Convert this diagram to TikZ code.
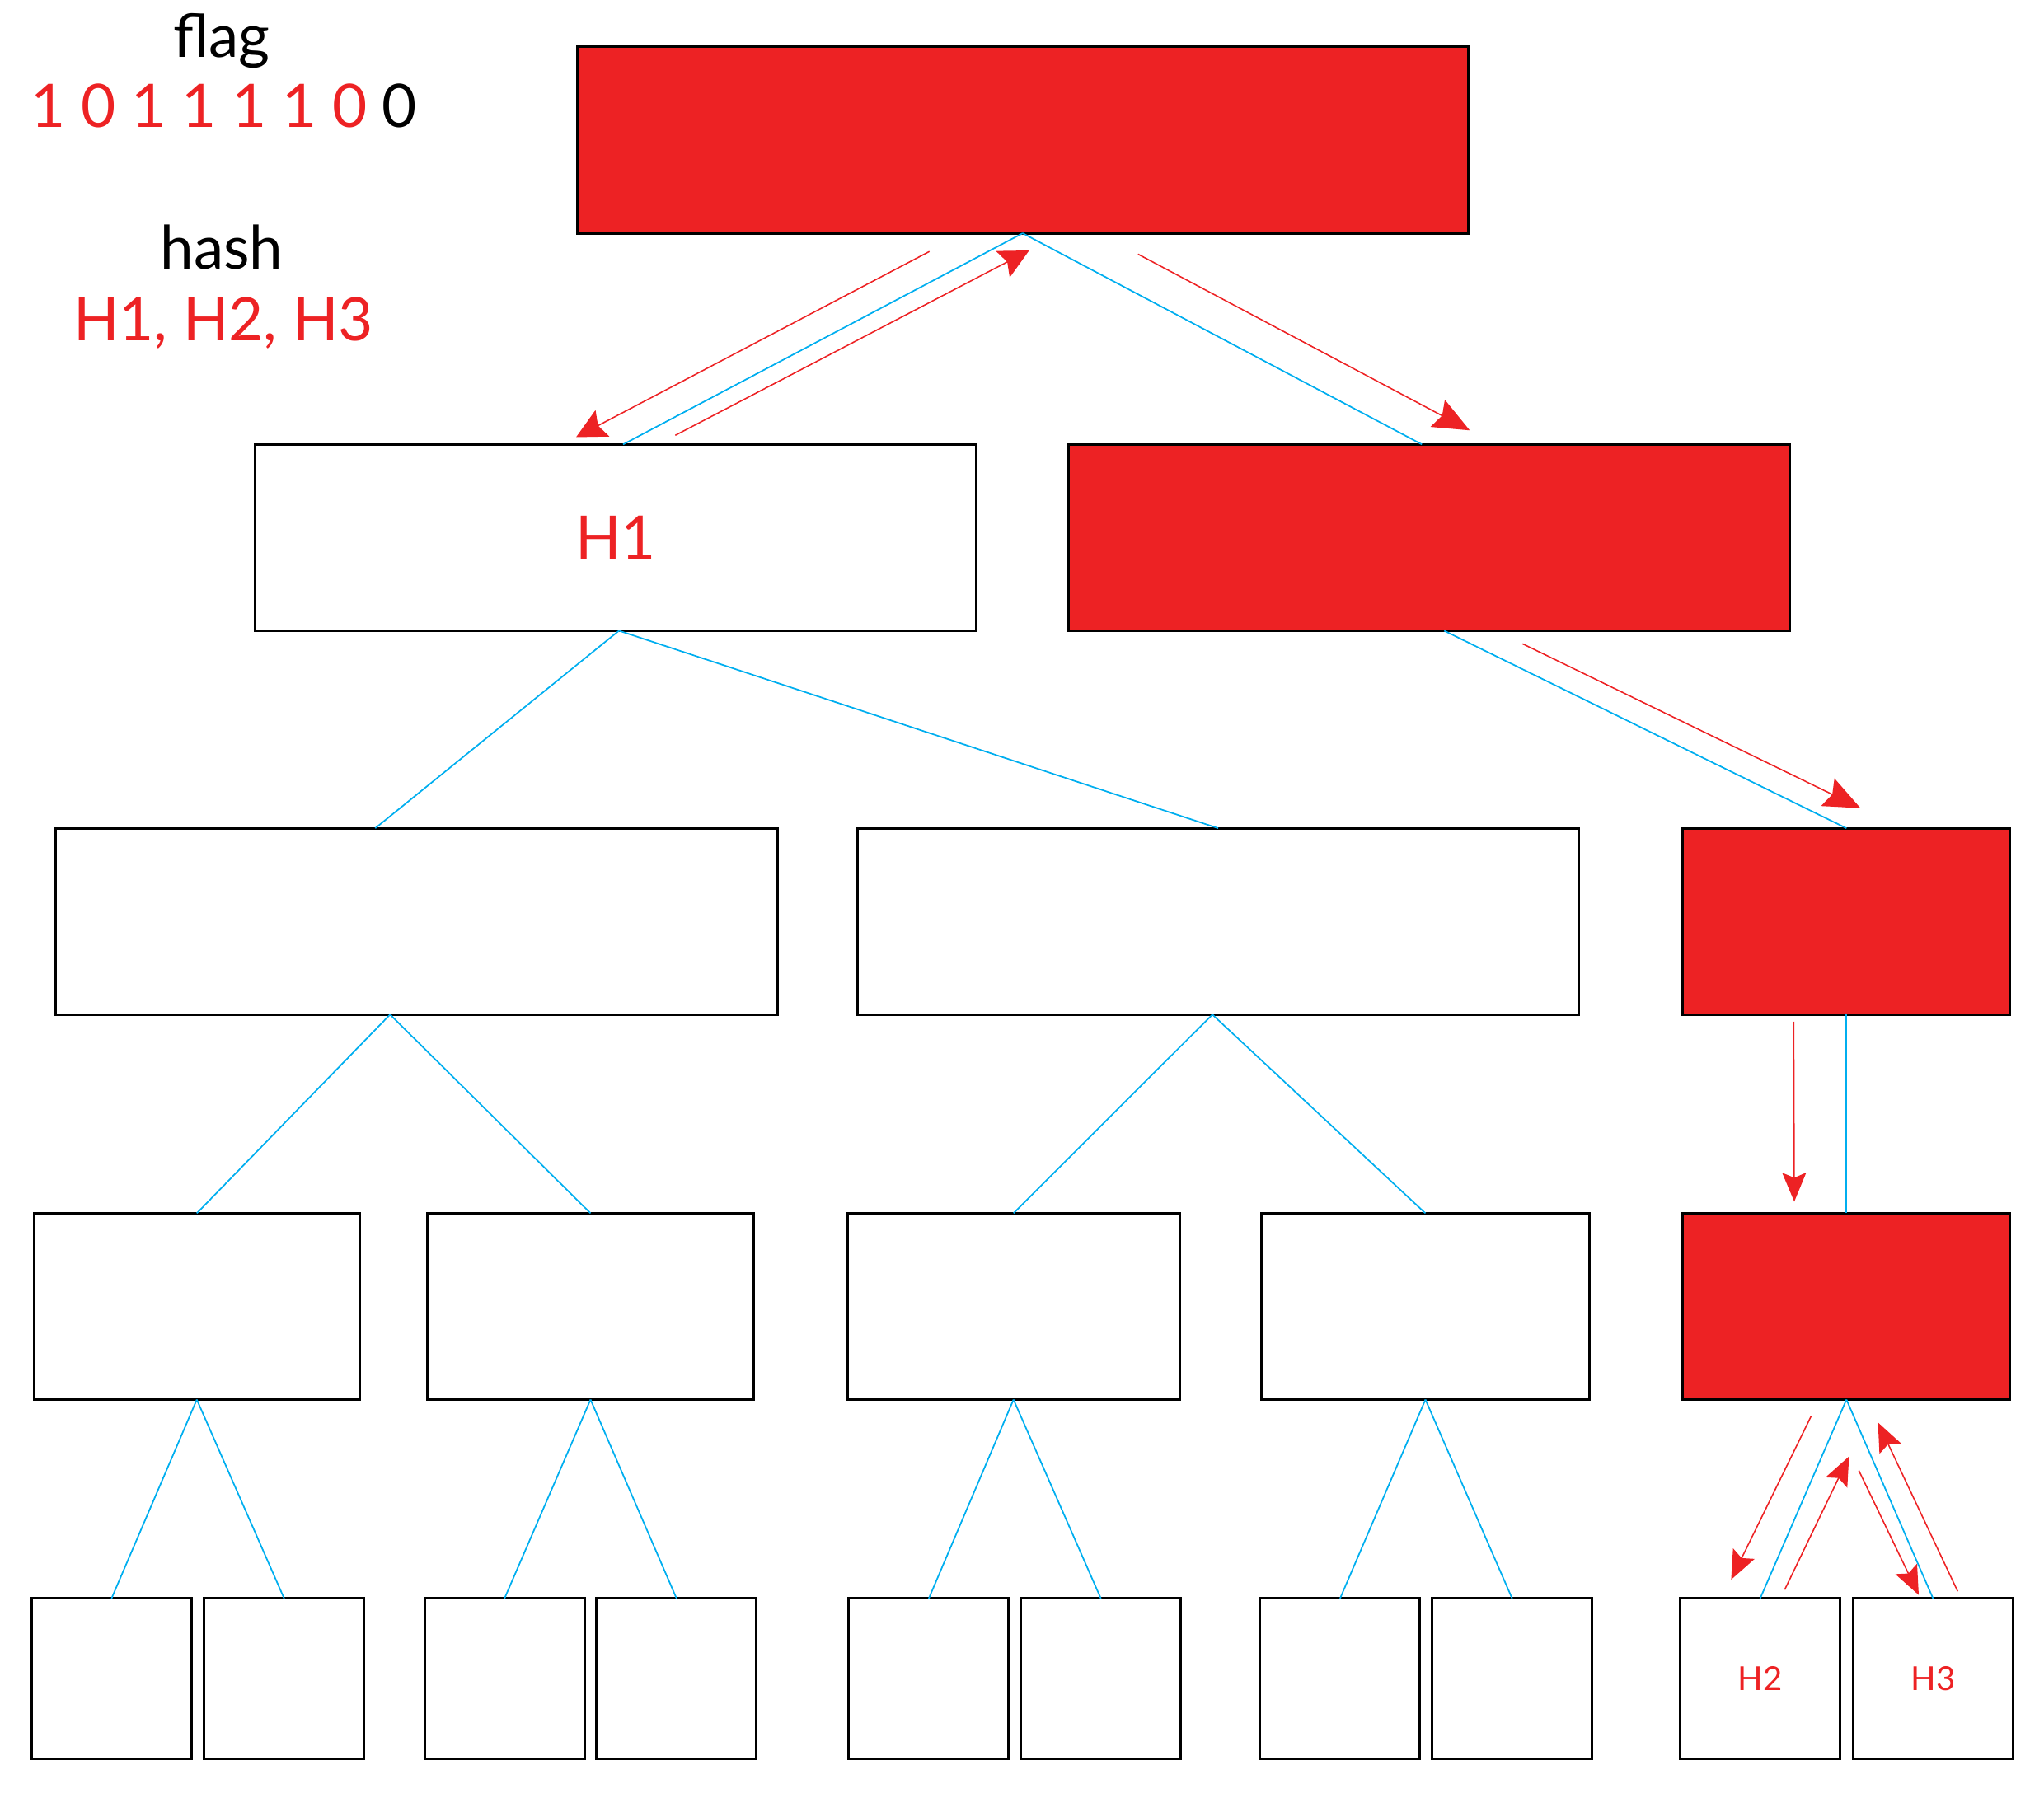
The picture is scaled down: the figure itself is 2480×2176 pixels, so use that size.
\documentclass[tikz,border=0pt]{standalone}
\usepackage{fontspec}
\setmainfont{Lato}
\usetikzlibrary{arrows.meta}
\definecolor{hitred}{RGB}{237,34,36}
\definecolor{linkblue}{RGB}{0,174,239}

\begin{document}
\begin{tikzpicture}[x=0.01cm, y=-0.01cm,
    cell/.style={draw=black, line width=0.85pt, inner sep=0pt, outer sep=0pt, minimum height=2.26cm},
    hit/.style={cell, fill=hitred},
    leaf/.style={draw=black, line width=0.85pt, inner sep=0pt, outer sep=0pt, minimum width=1.94cm, minimum height=1.94cm},
    edge/.style={linkblue, line width=0.5pt},
    trail/.style 2 args={hitred, line width=0.45pt, -{Stealth[length=#1cm, width=#2cm, inset=0.06cm]}},
    big/.style={font=\fontsize{20.7}{24}\selectfont},
  ]
  \useasboundingbox (0,0) rectangle (2480,2176);

  % flag and hash
  \node[big, anchor=base] (flag) at (269,70) {flag};
  \node[big, anchor=base, text=hitred] (bits) at (272,155) {1 0 1 1 1 1 0 \textcolor{black}{0}};
  \node[big, anchor=base] (hash) at (269,327) {hash};
  \node[big, anchor=base, text=hitred] (hashes) at (271,414) {H1, H2, H3};

  % tree
  \node[hit, minimum width=10.80cm] (root) at (1240.8,170) {};

  \node[cell, minimum width=8.75cm, big, text=hitred] (h1) at (747,652.4) {H1};
  \node[hit, minimum width=8.75cm] (r1) at (1734.2,652.4) {};

  \node[cell, minimum width=8.75cm] (a) at (505.3,1118.2) {};
  \node[cell, minimum width=8.75cm] (b) at (1478,1118.2) {};
  \node[hit, minimum width=3.97cm] (c) at (2240.3,1118.2) {};

  \node[cell, minimum width=3.95cm] (a1) at (238.8,1585.5) {};
  \node[cell, minimum width=3.95cm] (a2) at (716.5,1585.5) {};
  \node[cell, minimum width=4.03cm] (b1) at (1229.7,1585.5) {};
  \node[cell, minimum width=3.97cm] (b2) at (1729.5,1585.5) {};
  \node[hit, minimum width=3.97cm] (c1) at (2240.3,1585.5) {};

  \foreach \n/\x in {a1-l/135.3, a1-r/344.8, a2-l/612.1, a2-r/820.9,
                     b1-l/1126.9, b1-r/1335.7, b2-l/1625.9, b2-r/1834.7}
    \node[leaf] (\n) at (\x,2037) {};
  \node[leaf, text=hitred, font=\fontsize{11.4}{13}\selectfont] (c1-l) at (2135.6,2037) {H2};
  \node[leaf, text=hitred, font=\fontsize{11.4}{13}\selectfont] (c1-r) at (2345.4,2037) {H3};

  % blue links
  \draw[edge] (root.south) -- ([xshift=0.09cm]h1.north);
  \draw[edge] (root.south) -- ([xshift=-0.09cm]r1.north);
  \draw[edge] ([xshift=0.04cm]h1.south) -- ([xshift=-0.5cm]a.north);
  \draw[edge] ([xshift=0.04cm]h1.south) -- (b.north);
  \draw[edge] ([xshift=0.18cm]r1.south) -- (c.north);
  \draw[edge] ([xshift=-0.32cm]a.south) -- (a1.north);
  \draw[edge] ([xshift=-0.32cm]a.south) -- (a2.north);
  \draw[edge] ([xshift=-0.07cm]b.south) -- (b1.north);
  \draw[edge] ([xshift=-0.07cm]b.south) -- (b2.north);
  \draw[edge] (c.south) -- (c1.north);
  \foreach \p in {a1,a2,b1,b2,c1} {
    \draw[edge] (\p.south) -- (\p-l.north);
    \draw[edge] (\p.south) -- (\p-r.north);
  }

  % red walk
  \coordinate (go1) at (1127.7,305.2);  \coordinate (to1) at (699,530.5);
  \coordinate (go2) at (819.3,528.3);   \coordinate (to2) at (1248.7,304);
  \coordinate (go3) at (1380.7,308.4);  \coordinate (to3) at (1783.3,522.3);
  \coordinate (go4) at (1847.3,781.3);  \coordinate (to4) at (2257.3,980.7);
  \coordinate (go5) at (2176.3,1240);   \coordinate (to5) at (2177,1458.3);
  \coordinate (go6) at (2197.5,1718.6); \coordinate (to6) at (2100.4,1917);
  \coordinate (go7) at (2165.4,1929.2); \coordinate (to7) at (2243.4,1767.6);
  \coordinate (go8) at (2255.3,1784.6); \coordinate (to8) at (2328,1935.7);
  \coordinate (go9) at (2375.3,1931.3); \coordinate (to9) at (2278.6,1726.4);
  \foreach \i/\l/\w in {1/0.36/0.36, 2/0.36/0.36, 3/0.44/0.37, 4/0.44/0.37,
                        5/0.35/0.29, 6/0.35/0.29, 7/0.35/0.29, 8/0.35/0.29, 9/0.35/0.29}
    \draw[trail={\l}{\w}] (go\i) -- (to\i);
\end{tikzpicture}
\end{document}
